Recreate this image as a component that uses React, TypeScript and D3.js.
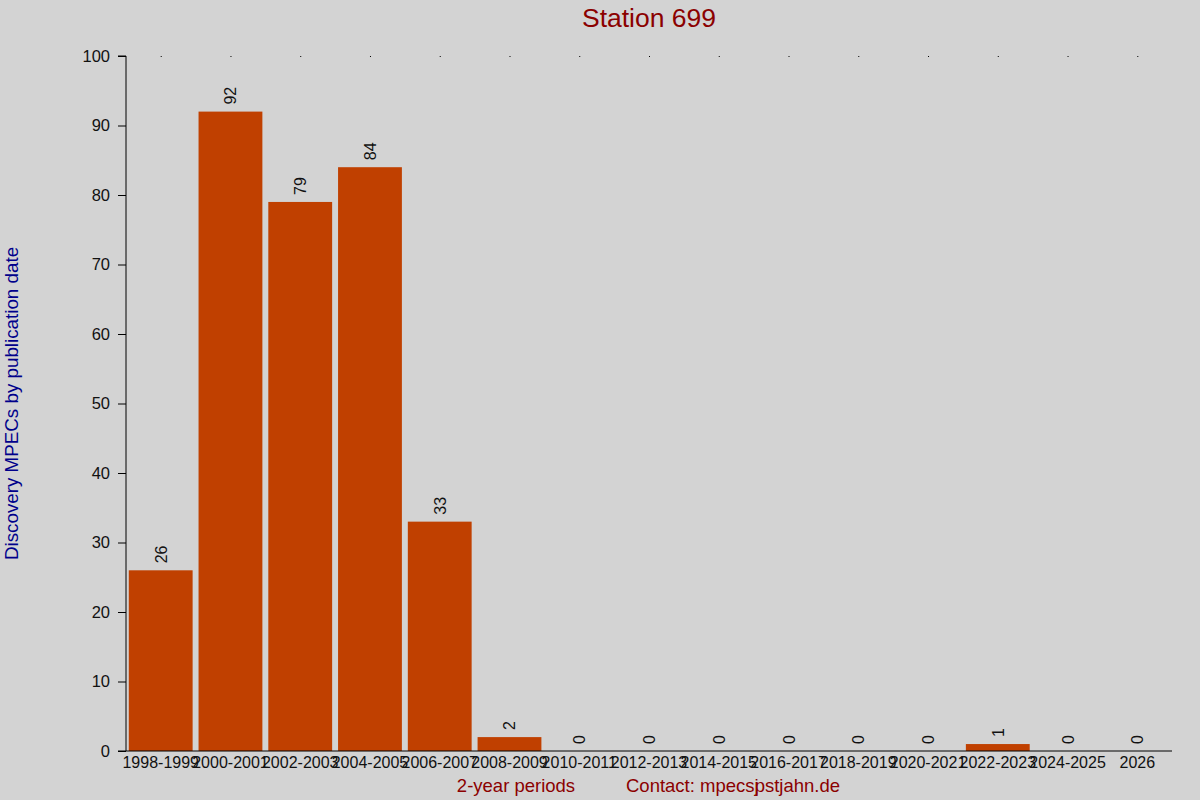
import { useEffect, useRef } from 'react';
import * as d3 from 'd3';

const periods = [
	'1998-1999', '2000-2001', '2002-2003', '2004-2005', '2006-2007',
	'2008-2009', '2010-2011', '2012-2013', '2014-2015', '2016-2017',
	'2018-2019', '2020-2021', '2022-2023', '2024-2025', '2026',
];
const counts = [26, 92, 79, 84, 33, 2, 0, 0, 0, 0, 0, 0, 1, 0, 0];
const yTicks = [0, 10, 20, 30, 40, 50, 60, 70, 80, 90, 100];

const width = 1200;
const height = 800;

export default function App() {
	const svgRef = useRef<SVGSVGElement | null>(null);

	useEffect(() => {
		if (!svgRef.current) return;
		const margin = { top: 56, right: 28, bottom: 49, left: 126 };
		const font = 'Liberation Sans, Arial, sans-serif';

		const svg = d3.select(svgRef.current);
		svg.selectAll('*').remove();

		svg.append('rect').attr('width', width).attr('height', height).attr('fill', '#d3d3d3');

		const x = d3
			.scaleBand<string>()
			.domain(periods)
			.range([margin.left, width - margin.right])
			.paddingInner(0.085)
			.paddingOuter(0.04);

		const y = d3
			.scaleLinear()
			.domain([0, 100])
			.range([height - margin.bottom, margin.top]);

		const data = periods.map((p, i) => ({ p, v: counts[i] }));

		// bars
		svg
			.append('g')
			.selectAll('rect')
			.data(data)
			.join('rect')
			.attr('x', (d) => x(d.p)!)
			.attr('y', (d) => y(d.v))
			.attr('width', x.bandwidth())
			.attr('height', (d) => y(0) - y(d.v))
			.attr('fill', '#c04000');

		// value labels
		svg
			.append('g')
			.selectAll('text')
			.data(data)
			.join('text')
			.attr('transform', (d) => `translate(${x(d.p)! + x.bandwidth() / 2 + 6},${y(d.v) - 7}) rotate(-90)`)
			.attr('font-family', font)
			.attr('font-size', 16)
			.attr('fill', '#111')
			.text((d) => d.v);

		// y axis
		const yAxis = svg
			.append('g')
			.attr('transform', `translate(${margin.left},0)`)
			.call(d3.axisLeft(y).tickValues(yTicks).tickSize(8).tickPadding(8));
		yAxis.select('.domain').attr('stroke', '#000').attr('d', `M0,${y(0)}V${y(100)}H-8`);
		yAxis.selectAll('text').attr('font-family', font).attr('font-size', 16.5).attr('fill', '#111');

		// x axis
		const xAxis = svg
			.append('g')
			.attr('transform', `translate(0,${y(0)})`)
			.call(d3.axisBottom(x).tickSize(0).tickPadding(6));
		xAxis.select('.domain').attr('stroke', '#000').attr('d', `M${margin.left - 8},0H${width - margin.right}`);
		xAxis.selectAll('text').attr('font-family', font).attr('font-size', 16).attr('fill', '#111');

		// top tick dots
		svg
			.append('g')
			.selectAll('rect')
			.data(periods)
			.join('rect')
			.attr('x', (d) => x(d)! + x.bandwidth() / 2)
			.attr('y', y(100))
			.attr('width', 1)
			.attr('height', 1)
			.attr('fill', '#000');

		// title
		svg
			.append('text')
			.attr('x', 649)
			.attr('y', 27)
			.attr('text-anchor', 'middle')
			.attr('font-family', font)
			.attr('font-size', 26.5)
			.attr('fill', '#8b0000')
			.text('Station 699');

		// y label
		svg
			.append('text')
			.attr('transform', `translate(18,${(y(0) + y(100)) / 2}) rotate(-90)`)
			.attr('text-anchor', 'middle')
			.attr('font-family', font)
			.attr('font-size', 18.8)
			.attr('fill', '#00008b')
			.text('Discovery MPECs by publication date');

		// x label
		svg
			.append('text')
			.attr('x', 516)
			.attr('y', 792)
			.attr('text-anchor', 'middle')
			.attr('font-family', font)
			.attr('font-size', 18.5)
			.attr('fill', '#8b0000')
			.text('2-year periods');

		const contact = svg
			.append('text')
			.attr('x', 626)
			.attr('y', 792)
			.attr('font-family', font)
			.attr('font-size', 18.5)
			.attr('fill', '#8b0000');
		contact.append('tspan').text('Contact: mpecsj');
		contact.append('tspan').attr('dx', -4).text('pstjahn.de');
	}, []);

	return (
		<svg
			ref={svgRef}
			width={width}
			height={height}
			style={{ position: 'absolute', left: 0, top: 0, display: 'block' }}
		/>
	);
}
